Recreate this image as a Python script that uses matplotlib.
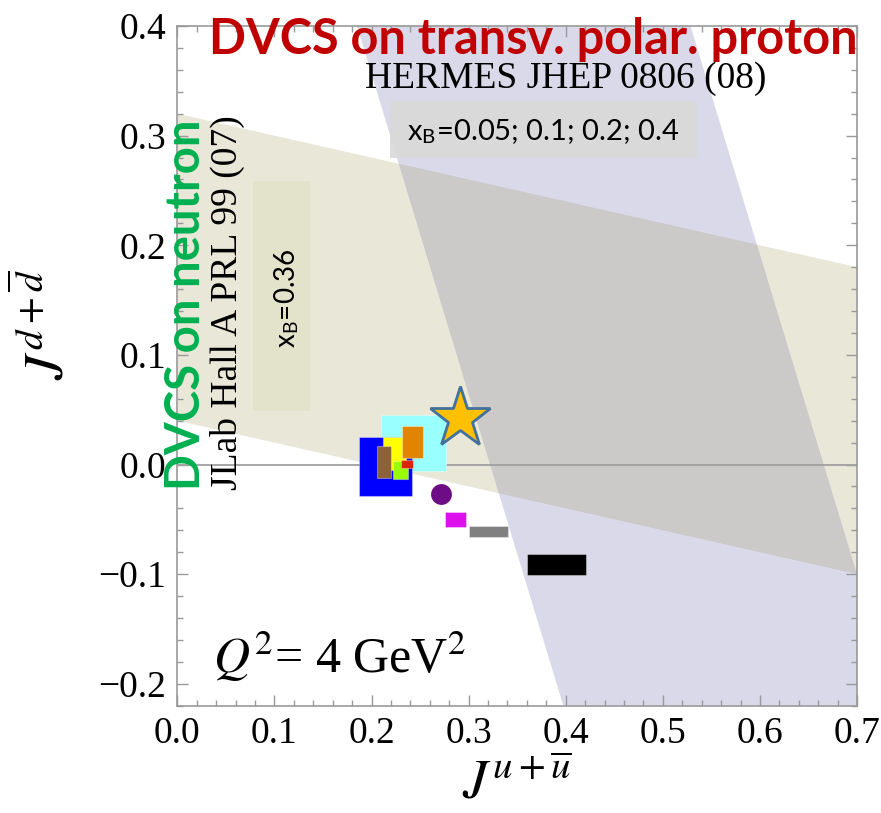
import numpy as np
import matplotlib
matplotlib.use("Agg")
import matplotlib.pyplot as plt
from matplotlib.patches import Rectangle

# ---- data -------------------------------------------------------------
# JLab Hall A (neutron DVCS) constraint band: J^d as a function of J^u
jlab_x = [0.0, 0.7]
jlab_upper = [0.32, 0.18]
jlab_lower = [0.04, -0.10]

# HERMES (transversely polarised proton) band: J^u edges as a function of J^d
hermes_y = [-0.22, 0.40]
hermes_left = [0.3975, 0.185]
hermes_right = [0.741, 0.5285]

# model predictions shown as boxes (J^u range, J^d range)
box_x_lo = [0.2095, 0.187, 0.212, 0.2053, 0.2311, 0.2225, 0.230, 0.2754, 0.3004, 0.3605]
box_x_hi = [0.2767, 0.2414, 0.236, 0.2200, 0.2534, 0.2380, 0.2424, 0.2973, 0.3403, 0.4206]
box_y_lo = [-0.006, -0.029, -0.005, -0.0122, 0.0055, -0.0128, -0.003, -0.057, -0.0661, -0.1011]
box_y_hi = [0.045, 0.0252, 0.025, 0.0167, 0.035, 0.003, 0.004, -0.0433, -0.0563, -0.0813]
box_colors = ["#99ffff", "#0000ff", "#ffff00", "#8c6239", "#e38400",
              "#99ff00", "#dd2200", "#dd11ee", "#808080", "#000000"]

# single-point predictions
circle_pt = (0.2713, -0.0268)
star_pt = (0.291, 0.0426)

x_ticks = [0.0, 0.1, 0.2, 0.3, 0.4, 0.5, 0.6, 0.7]
y_ticks = [-0.2, -0.1, 0.0, 0.1, 0.2, 0.3, 0.4]

# ---- figure -----------------------------------------------------------
plt.rcParams["mathtext.fontset"] = "stix"
serif = ["Liberation Serif", "DejaVu Serif"]
sans = ["Lato", "DejaVu Sans"]

fig = plt.figure(figsize=(8.81, 8.13), dpi=100)
ax = fig.add_axes([0.2013, 0.132, 0.7715, 0.836])
ax.set_xlim(0, 0.7)
ax.set_ylim(-0.22, 0.4)

beige = "#e9e7d8"
lavender = "#d9d9ea"
overlap = "#ccc9c9"

jx = np.array(jlab_x)
jlab_poly = ax.fill(np.r_[jx, jx[::-1]], np.r_[jlab_upper, jlab_lower[::-1]],
                    color=beige, lw=0, zorder=1)[0]
hy = np.array(hermes_y)
hx_poly = np.r_[hermes_left, hermes_right[::-1]]
hy_poly = np.r_[hy, hy[::-1]]
ax.fill(hx_poly, hy_poly, color=lavender, lw=0, zorder=1)
ov = ax.fill(hx_poly, hy_poly, color=overlap, lw=0, zorder=1.5)[0]
ov.set_clip_path(jlab_poly)

# label boxes
ax.add_patch(Rectangle((0.078, 0.049), 0.059, 0.21, facecolor="#e3e3cb",
                       edgecolor="none", zorder=2))
ax.add_patch(Rectangle((0.219, 0.2797), 0.316, 0.0521, facecolor="#d9d9d9",
                       alpha=0.9, edgecolor="none", zorder=2))

ax.axhline(0.0, color="#a0a0a0", lw=1.3, zorder=2.5)

for x0, x1, y0, y1, c in zip(box_x_lo, box_x_hi, box_y_lo, box_y_hi, box_colors):
    ax.add_patch(Rectangle((x0, y0), x1 - x0, y1 - y0, facecolor=c,
                           edgecolor=(1, 1, 1, 0.35), lw=0.8, zorder=3))

ax.plot(*circle_pt, "o", ms=15, color="#6e0c86", mec="none", zorder=4)
ax.plot(*star_pt, "*", ms=46, color="#ffc000", mec="#41719c", mew=2, zorder=5)

# ---- axes styling -----------------------------------------------------
ax.set_xticks(x_ticks)
ax.set_yticks(y_ticks)
ax.set_xticks(np.arange(0, 0.70001, 0.02), minor=True)
ax.set_yticks(np.arange(-0.22, 0.40001, 0.02), minor=True)
ax.set_xticklabels([f"{v:.1f}" for v in x_ticks], fontfamily=serif, fontsize=27)
ax.set_yticklabels([f"{v:.1f}".replace("-", "\u2212") for v in y_ticks],
                   fontfamily=serif, fontsize=27)
ax.tick_params(which="both", direction="in", top=True, right=True,
               color="#999999", width=1.0)
ax.tick_params(which="major", length=8, pad=8)
ax.tick_params(which="minor", length=4.5)
for s in ax.spines.values():
    s.set_color("#999999")
    s.set_linewidth(1.2)

# ---- texts ------------------------------------------------------------
ax.text(0.3665, 0.388, "DVCS on transv. polar. proton", color="#c00000",
        fontfamily=sans, fontweight="bold", fontsize=35, ha="center", va="center",
        zorder=6)
ax.text(0.3995, 0.352, "HERMES JHEP 0806 (08)", fontfamily=serif, fontsize=27,
        ha="center", va="center", zorder=6)
ax.text(0.377, 0.304, r"x$_\mathregular{B}$=0.05; 0.1; 0.2; 0.4", fontfamily=sans,
        fontsize=21, ha="center", va="center", zorder=6)
ax.text(0.009, 0.1455, "DVCS on neutron", color="#00b050", fontfamily=sans,
        fontweight="bold", fontsize=34, rotation=90, ha="center", va="center",
        zorder=6)
ax.text(0.0515, 0.148, "JLab Hall A PRL 99 (07)", fontfamily=serif, fontsize=27,
        rotation=90, ha="center", va="center", zorder=6)
ax.text(0.113, 0.152, r"x$_\mathregular{B}$=0.36", fontfamily=sans, fontsize=20,
        rotation=90, ha="center", va="center", zorder=6)
ax.text(0.037, -0.175, r"$Q^2$= 4 GeV$^2$", fontfamily=serif, fontsize=36,
        ha="left", va="center", zorder=6)

fig.text(517 / 881, 1 - 783 / 813, r"$J^{u+\overline{u}}$", fontsize=40,
         ha="center", va="center")
fig.text(45 / 881, 1 - 325 / 813, r"$J^{d+\overline{d}}$", fontsize=40,
         rotation=90, ha="center", va="center")

fig.savefig("out.png", dpi=100)
